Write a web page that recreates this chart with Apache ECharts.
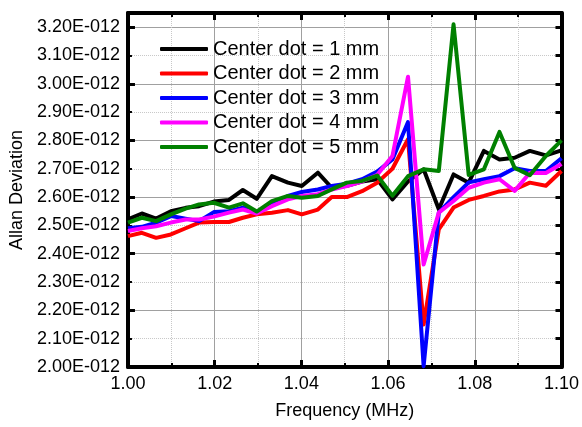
<!DOCTYPE html>
<html>
<head>
<meta charset="utf-8">
<script src="https://cdn.jsdelivr.net/npm/echarts@6/dist/echarts.min.js"></script>
<style>
  html, body { margin: 0; padding: 0; background: #ffffff; }
  #chart { width: 582px; height: 427px; }
</style>
</head>
<body>
<div id="chart"></div>
<script>
// Frequency sweep (MHz)
const frequency = [
  1.0000, 1.0032, 1.0065, 1.0099, 1.0133, 1.0164, 1.0198, 1.0233, 1.0265, 1.0297,
  1.0332, 1.0369, 1.0401, 1.0438, 1.0470, 1.0505, 1.0540, 1.0575, 1.0610, 1.0646,
  1.0682, 1.0717, 1.0751, 1.0786, 1.0821, 1.0857, 1.0892, 1.0927, 1.0964, 1.1000
];

// Allan deviation, in units of 1E-012
const dot1mm = [
  2.521, 2.542, 2.524, 2.550, 2.562, 2.568, 2.584, 2.590, 2.625, 2.594,
  2.674, 2.651, 2.639, 2.686, 2.633, 2.640, 2.655, 2.663, 2.592, 2.655,
  2.698, 2.557, 2.680, 2.651, 2.763, 2.733, 2.739, 2.763, 2.747, 2.765
];
const dot2mm = [
  2.462, 2.474, 2.456, 2.468, 2.490, 2.510, 2.512, 2.512, 2.527, 2.539,
  2.545, 2.554, 2.539, 2.556, 2.600, 2.600, 2.621, 2.651, 2.700, 2.804,
  2.150, 2.486, 2.563, 2.590, 2.604, 2.620, 2.627, 2.651, 2.640, 2.692
];
const dot3mm = [
  2.490, 2.495, 2.510, 2.533, 2.524, 2.515, 2.547, 2.550, 2.563, 2.545,
  2.574, 2.604, 2.618, 2.627, 2.639, 2.647, 2.663, 2.690, 2.733, 2.865,
  2.003, 2.545, 2.600, 2.652, 2.663, 2.674, 2.702, 2.692, 2.692, 2.737
];
const dot4mm = [
  2.480, 2.490, 2.497, 2.510, 2.521, 2.521, 2.531, 2.545, 2.556, 2.542,
  2.568, 2.592, 2.604, 2.610, 2.627, 2.639, 2.655, 2.679, 2.745, 3.025,
  2.362, 2.545, 2.586, 2.633, 2.651, 2.663, 2.622, 2.686, 2.685, 2.717
];
const dot5mm = [
  2.510, 2.527, 2.515, 2.539, 2.559, 2.574, 2.580, 2.563, 2.578, 2.549,
  2.586, 2.604, 2.598, 2.604, 2.627, 2.651, 2.657, 2.676, 2.605, 2.674,
  2.698, 2.692, 3.210, 2.678, 2.698, 2.830, 2.703, 2.677, 2.745, 2.800
];

const seriesNames = [
  'Center dot = 1 mm', 'Center dot = 2 mm', 'Center dot = 3 mm',
  'Center dot = 4 mm', 'Center dot = 5 mm'
];
const seriesValues = [dot1mm, dot2mm, dot3mm, dot4mm, dot5mm];
const seriesColors = ['#000000', '#ff0000', '#0000ff', '#ff00ff', '#008000'];

// Axis ranges and tick steps
const xMin = 1.00, xMax = 1.10, xStep = 0.02;
const yMin = 2.00, yMax = 3.25, yLabelStep = 0.1, yMajorStep = 0.2, yLastLabel = 3.20;

const FONT = '"Liberation Sans", Arial, Helvetica, sans-serif';

const chart = echarts.init(document.getElementById('chart'), null, { renderer: 'canvas' });

const frame = { show: true, onZero: false, lineStyle: { color: '#000', width: 4 } };

const option = {
  backgroundColor: '#ffffff',
  animation: false,
  textStyle: { fontFamily: FONT },
  grid: { left: 124, right: 20, top: 13, bottom: 60, containLabel: false },
  legend: {
    orient: 'vertical',
    left: 160,
    top: 39,
    padding: 0,
    itemWidth: 48,
    itemHeight: 4,
    itemGap: 4.5,
    icon: 'roundRect',
    textStyle: { fontSize: 20, fontFamily: FONT, color: '#000', lineHeight: 20 },
    data: seriesNames
  },
  xAxis: [
    {
      type: 'value', position: 'bottom',
      min: xMin, max: xMax, interval: xStep,
      axisLine: frame,
      axisTick: { show: true, inside: true, length: 7, lineStyle: { color: '#000', width: 3 } },
      minorTick: { show: true, splitNumber: 2, length: 4, lineStyle: { color: '#000', width: 2 } },
      splitLine: { show: true, lineStyle: { color: '#a0a0a0', width: 1 } },
      minorSplitLine: { show: true, lineStyle: { color: '#c8c8c8', width: 1, type: 'dotted' } },
      axisLabel: {
        fontSize: 18, fontFamily: FONT, color: '#000', margin: 8,
        formatter: v => v.toFixed(2)
      },
      name: 'Frequency (MHz)', nameLocation: 'middle', nameGap: 35,
      nameTextStyle: { fontSize: 18, fontFamily: FONT, color: '#000' }
    },
    {
      type: 'value', position: 'top',
      min: xMin, max: xMax, interval: xStep,
      axisLine: frame,
      axisTick: { show: true, inside: true, length: 7, lineStyle: { color: '#000', width: 3 } },
      minorTick: { show: true, splitNumber: 2, length: 4, lineStyle: { color: '#000', width: 2 } },
      splitLine: { show: false },
      axisLabel: { show: false }
    }
  ],
  yAxis: [
    {
      // labelled axis, one line per 0.1 step (dotted grid)
      type: 'value', position: 'left',
      min: yMin, max: yMax, interval: yLabelStep,
      axisLine: frame,
      axisTick: { show: true, inside: true, length: 4, lineStyle: { color: '#000', width: 2 } },
      splitLine: { show: true, lineStyle: { color: '#c8c8c8', width: 1, type: 'dotted' } },
      axisLabel: {
        fontSize: 18, fontFamily: FONT, color: '#000', margin: 8,
        formatter: v => (v > yLastLabel + 1e-6 ? '' : v.toFixed(2) + 'E-012')
      },
      name: 'Allan Deviation', nameLocation: 'middle', nameGap: 87, nameRotate: 90,
      nameTextStyle: { fontSize: 18, fontFamily: FONT, color: '#000' }
    },
    {
      // major steps: solid grid lines and longer ticks
      type: 'value', position: 'left', offset: 0,
      min: yMin, max: yMax, interval: yMajorStep,
      axisLine: { show: false },
      axisTick: { show: true, inside: true, length: 7, lineStyle: { color: '#000', width: 3 } },
      splitLine: { show: true, lineStyle: { color: '#a0a0a0', width: 1 } },
      axisLabel: { show: false }
    },
    {
      type: 'value', position: 'right',
      min: yMin, max: yMax, interval: yLabelStep,
      axisLine: frame,
      axisTick: { show: true, inside: true, length: 6, lineStyle: { color: '#000', width: 3 } },
      splitLine: { show: false },
      axisLabel: { show: false }
    }
  ],
  series: seriesNames.map((name, i) => ({
    name,
    type: 'line',
    xAxisIndex: 0,
    yAxisIndex: 0,
    data: frequency.map((f, k) => [f, seriesValues[i][k]]),
    showSymbol: false,
    symbol: 'none',
    color: seriesColors[i],
    lineStyle: { color: seriesColors[i], width: 4, join: 'round' },
    z: 3 + i
  }))
};

chart.setOption(option);
</script>
</body>
</html>
